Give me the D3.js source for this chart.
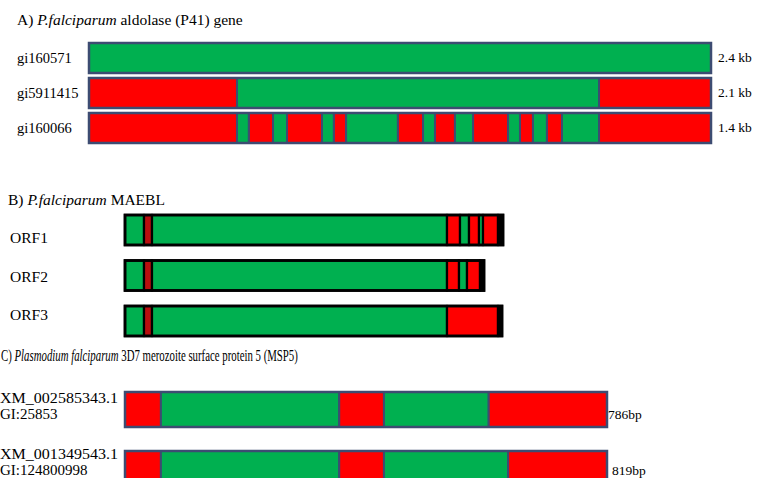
<!DOCTYPE html>
<html>
<head>
<meta charset="utf-8">
<script src="https://cdn.jsdelivr.net/npm/d3@7/dist/d3.min.js"></script>
<style>
  html, body { margin: 0; padding: 0; background: #fff; }
  svg text { font-family: "Liberation Serif", "Times New Roman", serif; fill: #000; }
</style>
</head>
<body>
<svg id="fig" width="757" height="478"></svg>
<script>
// ---- A) aldolase (P41) alignment blocks, positions along the 2.4 kb reference ----
const aldolaseRows = ["gi160571", "gi5911415", "gi160066"];
const aldolaseSizes = ["2.4 kb", "2.1 kb", "1.4 kb"];
const gi160571Breaks = [0, 2400];
const gi160571Kinds = ["c"];
const gi5911415Breaks = [0, 571, 1968, 2400];
const gi5911415Kinds = ["d", "c", "d"];
const gi160066Breaks = [0, 571, 617, 710, 764, 899, 945, 992, 1192, 1289, 1335, 1412, 1482, 1617, 1663, 1713, 1767, 1825, 1968, 2400];
const gi160066Kinds = ["d", "c", "d", "c", "d", "c", "d", "c", "d", "c", "d", "c", "d", "c", "d", "c", "d", "c", "d"];

// ---- B) MAEBL open reading frames (bp) ----
const maeblRows = ["ORF1", "ORF2", "ORF3"];
const orf1Breaks = [0, 304, 432, 5152, 5360, 5504, 5664, 5728, 5968, 6048];
const orf1Kinds = ["c", "m", "c", "d", "c", "d", "c", "d", "s"];
const orf2Breaks = [0, 304, 432, 5152, 5344, 5472, 5680, 5744];
const orf2Kinds = ["c", "m", "c", "d", "c", "d", "s"];
const orf3Breaks = [0, 304, 432, 5152, 5968, 6032];
const orf3Kinds = ["c", "m", "c", "d", "s"];

// ---- C) MSP5 transcripts (bp) ----
const mspAccessions = ["XM_002585343.1", "XM_001349543.1"];
const mspGi = ["GI:25853", "GI:124800998"];
const mspSizes = ["786bp", "819bp"];
const msp1Breaks = [0, 61, 364, 440, 618, 819];
const msp1Kinds = ["d", "c", "d", "c", "d"];
const msp2Breaks = [0, 61, 364, 440, 651, 819];
const msp2Kinds = ["d", "c", "d", "c", "d"];

const kindColor = { c: "#00b050", d: "#ff0000", m: "#b80f0f", s: "#000000" };

const svg = d3.select("#fig");

function toSegments(breaks, kinds) {
  return kinds.map((k, i) => ({ x0: breaks[i], x1: breaks[i + 1], kind: k }));
}

// draws one track: coloured blocks plus an outer frame
function drawTrack(g, segs, x, y, h, stroke, sw) {
  g.selectAll(null).data(segs).join("rect")
    .attr("x", d => x(d.x0))
    .attr("y", y)
    .attr("width", d => x(d.x1) - x(d.x0))
    .attr("height", h)
    .attr("fill", d => kindColor[d.kind])
    .attr("stroke", stroke)
    .attr("stroke-width", sw * 0.8);
  const ext = d3.extent(segs.flatMap(d => [d.x0, d.x1]));
  g.append("rect")
    .attr("x", x(ext[0])).attr("y", y)
    .attr("width", x(ext[1]) - x(ext[0])).attr("height", h)
    .attr("fill", "none").attr("stroke", stroke).attr("stroke-width", sw);
}

// heading with italic species names; optionally squeezed horizontally to a given width
function title(g, x, y, size, parts, fitWidth) {
  const holder = g.append("g").attr("transform", `translate(${x},${y})`);
  const t = holder.append("text").attr("font-size", size);
  parts.forEach(p => t.append("tspan").attr("font-style", p[1] ? "italic" : null).text(p[0]));
  if (fitWidth) {
    const w = t.node().getComputedTextLength();
    t.attr("transform", `scale(${fitWidth / w},1)`);
  }
  return t;
}

// ---------- panel A ----------
{
  const g = svg.append("g");
  const x = d3.scaleLinear().domain([0, 2400]).range([89, 711]);
  const y = d3.scaleBand().domain(aldolaseRows).range([43, 143]).paddingInner(5 / 35);
  title(g, 17, 25, 15.5, [["A) ", 0], ["P.falciparum", 1], [" aldolase (P41) gene", 0]]);
  const tracks = [
    toSegments(gi160571Breaks, gi160571Kinds),
    toSegments(gi5911415Breaks, gi5911415Kinds),
    toSegments(gi160066Breaks, gi160066Kinds)
  ];
  aldolaseRows.forEach((r, i) => {
    drawTrack(g, tracks[i], x, y(r), y.bandwidth(), "#3d4c72", 2.5);
    g.append("text").attr("x", 17).attr("y", y(r) + y.bandwidth() / 2 + 5)
      .attr("font-size", 14.5).text(r);
    g.append("text").attr("x", x(2400) + 7).attr("y", y(r) + y.bandwidth() / 2 + 4)
      .attr("font-size", 13.5).text(aldolaseSizes[i]);
  });
}

// ---------- panel B ----------
{
  const g = svg.append("g");
  const x = d3.scaleLinear().domain([0, 6048]).range([125, 503]);
  const y = d3.scaleBand().domain(maeblRows).range([215, 336]).paddingInner(15.5 / 45.5);
  const ly = d3.scalePoint().domain(maeblRows).range([243, 320]);
  title(g, 8, 205, 15.5, [["B) ", 0], ["P.falciparum", 1], [" MAEBL", 0]]);
  const tracks = [
    toSegments(orf1Breaks, orf1Kinds),
    toSegments(orf2Breaks, orf2Kinds),
    toSegments(orf3Breaks, orf3Kinds)
  ];
  maeblRows.forEach((r, i) => {
    drawTrack(g, tracks[i], x, y(r), y.bandwidth(), "#000", 2.8);
    g.append("text").attr("x", 10).attr("y", ly(r)).attr("font-size", 15.5).text(r);
  });
}

// ---------- panel C ----------
{
  const g = svg.append("g");
  const x = d3.scaleLinear().domain([0, 819]).range([125, 607]);
  const rows = mspAccessions;
  const y = d3.scaleBand().domain(rows).range([392, 486]).paddingInner(24 / 59);
  title(g, 1, 361, 17, [["C) ", 0], ["Plasmodium falciparum", 1], [" 3D7 merozoite surface protein 5 (MSP5)", 0]], 297);
  const tracks = [toSegments(msp1Breaks, msp1Kinds), toSegments(msp2Breaks, msp2Kinds)];
  const labelTop = d3.scalePoint().domain(rows).range([403, 459]);
  rows.forEach((r, i) => {
    drawTrack(g, tracks[i], x, y(r), y.bandwidth(), "#3d4c72", 2.5);
    g.append("text").attr("x", 0).attr("y", labelTop(r)).attr("font-size", 15)
      .attr("textLength", 118).attr("lengthAdjust", "spacingAndGlyphs").text(r);
    g.append("text").attr("x", 0).attr("y", labelTop(r) + 16).attr("font-size", 15).text(mspGi[i]);
    g.append("text").attr("x", x(819) + 1 + i * 4).attr("y", labelTop(r) + 16)
      .attr("font-size", 13.5).text(mspSizes[i]);
  });
}
</script>
</body>
</html>
